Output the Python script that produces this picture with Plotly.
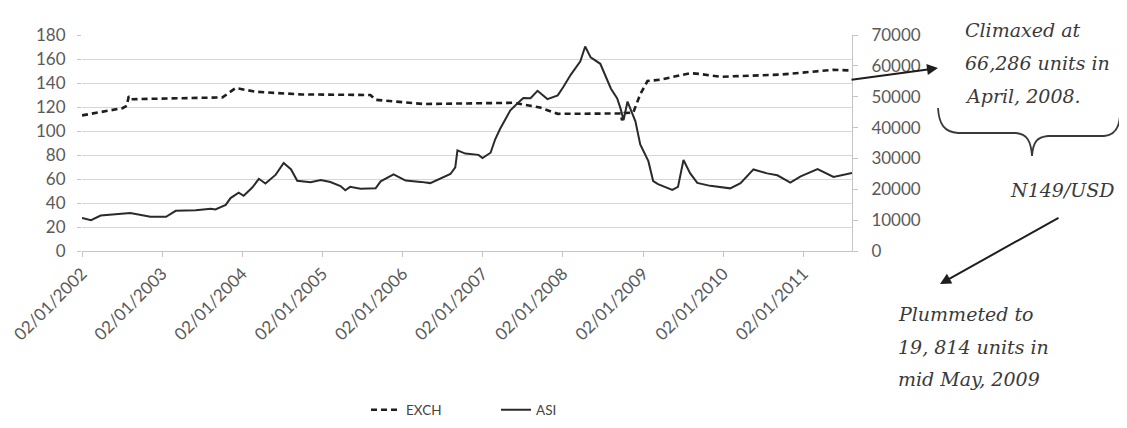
import plotly.graph_objects as go

# ---------------- data ----------------
exch_dates = ["2002-01-02", "2002-07-05", "2002-07-25", "2002-08-03", "2002-08-15",
              "2003-10-04", "2003-10-27", "2003-12-03", "2004-03-04", "2004-09-24",
              "2005-08-08", "2005-09-01", "2006-04-06", "2007-05-22", "2007-09-20",
              "2007-12-10", "2008-09-21", "2008-09-28", "2008-10-10", "2008-11-18",
              "2008-12-20", "2009-01-22", "2009-03-22", "2009-08-04", "2009-09-20",
              "2009-12-20", "2010-09-20", "2011-05-20", "2011-08-12"]
exch_values = [113, 119, 121, 129, 126.5,
               128, 131, 135.8, 132.7, 130.5,
               130, 126, 122.5, 123.5, 119.6,
               114.3, 114.6, 109, 115, 115.3,
               130.6, 141.6, 142.8, 148.2, 147.5,
               145.2, 147, 151, 150.4]

asi_dates = ["2002-01-02", "2002-02-12", "2002-03-28", "2002-08-10", "2002-11-10",
             "2003-01-20", "2003-03-05", "2003-06-04", "2003-08-12", "2003-09-02",
             "2003-10-19", "2003-11-10", "2003-12-17", "2004-01-09", "2004-02-18",
             "2004-03-18", "2004-04-17", "2004-06-03", "2004-07-09", "2004-08-11",
             "2004-09-09", "2004-11-09", "2004-12-25", "2005-02-07", "2005-03-25",
             "2005-04-16", "2005-05-08", "2005-06-24", "2005-09-01", "2005-09-24",
             "2005-11-22", "2006-01-16", "2006-03-26", "2006-05-08", "2006-08-08",
             "2006-08-30", "2006-09-09", "2006-10-15", "2006-12-14", "2007-01-01",
             "2007-02-07", "2007-02-28", "2007-03-22", "2007-05-08", "2007-06-10",
             "2007-07-06", "2007-08-08", "2007-09-09", "2007-10-24", "2007-12-10",
             "2008-01-05", "2008-02-07", "2008-03-22", "2008-04-13", "2008-05-08",
             "2008-05-30", "2008-06-21", "2008-08-08", "2008-09-06", "2008-09-21",
             "2008-10-05", "2008-10-23", "2008-11-28", "2008-12-20", "2009-01-26",
             "2009-02-17", "2009-03-11", "2009-05-15", "2009-06-10", "2009-07-05",
             "2009-08-04", "2009-09-06", "2009-11-04", "2010-02-03", "2010-03-22",
             "2010-05-20", "2010-07-21", "2010-09-06", "2010-11-04", "2010-12-21",
             "2011-03-08", "2011-05-20", "2011-08-12"]
asi_values = [10740, 10000, 11500, 12340, 11130,
              11070, 13030, 13220, 13720, 13450,
              14950, 17160, 18900, 17900, 20650,
              23400, 21890, 24740, 28550, 26500,
              22760, 22300, 23000, 22350, 21050,
              19670, 20800, 20160, 20340, 22560,
              24830, 22830, 22400, 22000, 24950,
              27100, 32600, 31560, 31160, 30140,
              31850, 36200, 39550, 45600, 47900,
              49580, 49500, 51900, 49230, 50440,
              53230, 57100, 61500, 66286, 62730,
              61720, 60670, 52660, 49430, 46220,
              42430, 48440, 42020, 34500, 29120,
              22670, 21670, 19814, 20780, 29510,
              25240, 22050, 21110, 20300, 21950,
              26430, 25150, 24540, 22150, 24200,
              26550, 24000, 25280]

tick_dates = ["2002-01-02", "2003-01-02", "2004-01-02", "2005-01-02", "2006-01-02",
              "2007-01-02", "2008-01-02", "2009-01-02", "2010-01-02", "2011-01-02"]
tick_labels = ["02/01/2002", "02/01/2003", "02/01/2004", "02/01/2005", "02/01/2006",
               "02/01/2007", "02/01/2008", "02/01/2009", "02/01/2010", "02/01/2011"]
x_range = ["2002-01-02", "2011-08-12"]

# ---------------- layout helpers ----------------
PAGE_W, PAGE_H = 1127, 428
OFF = 8  # default page margin around the figure
FIG_W, FIG_H = PAGE_W - 2 * OFF, PAGE_H - 2 * OFF
L, R, T, B = 82, 852, 35, 251  # plot area in page pixels
W, H = R - L, B - T


def px(x):
    return (x - L) / W


def py(y):
    return (B - y) / H


AX_FONT = dict(family="Lato, 'Open Sans', sans-serif", size=17, color="#5a5a5a")
NOTE_FONT = dict(family="'DejaVu Serif', serif", size=19, color="#3a3a3a")

fig = go.Figure()
fig.add_trace(go.Scatter(x=exch_dates, y=exch_values, name="EXCH", mode="lines",
                         line=dict(color="#1e1e1e", width=2.6, dash="6px,4px"),
                         yaxis="y"))
fig.add_trace(go.Scatter(x=asi_dates, y=asi_values, name="ASI", mode="lines",
                         line=dict(color="#2a2a2a", width=2),
                         yaxis="y2"))

fig.update_layout(
    width=FIG_W, height=FIG_H,
    margin=dict(l=L - OFF, r=FIG_W - (R - OFF), t=T - OFF, b=FIG_H - (B - OFF),
                autoexpand=False),
    paper_bgcolor="white", plot_bgcolor="white",
    showlegend=True,
    legend=dict(orientation="h", x=px(366), y=py(410), xanchor="left", yanchor="middle",
                font=dict(family="Lato, sans-serif", size=13.5, color="#444"),
                entrywidth=85, bgcolor="rgba(0,0,0,0)"),
    xaxis=dict(type="date", range=x_range, tickvals=tick_dates, ticktext=tick_labels,
               tickangle=-45, tickfont=AX_FONT, showgrid=False, automargin=False,
               showline=True, linecolor="#c4c4c4", linewidth=1,
               ticks="outside", ticklen=5, tickcolor="#c4c4c4"),
    yaxis=dict(range=[0, 180], dtick=20, tickfont=AX_FONT, automargin=False,
               showgrid=True, gridcolor="#d6d6d6", gridwidth=1,
               zeroline=False, showline=False,
               ticks="outside", ticklen=4, tickcolor="#c4c4c4",
               ticklabelstandoff=8),
    yaxis2=dict(range=[0, 70000], dtick=10000, tickformat="d", tickfont=AX_FONT,
                overlaying="y", side="right", showgrid=False, zeroline=False,
                automargin=False,
                showline=True, linecolor="#c4c4c4", linewidth=1,
                ticks="outside", ticklen=5, tickcolor="#c4c4c4",
                ticklabelstandoff=10),
)

# ---------------- annotations ----------------
notes = [
    ("Climaxed at", 963, 30),
    ("66,286 units in", 963, 63),
    ("April, 2008.", 963, 96),
    ("Plummeted to", 896, 314),
    ("19, 814 units in", 896, 347),
    ("mid May, 2009", 896, 379),
]
for txt, x0, y0 in notes:
    fig.add_annotation(text="<i>" + txt + "</i>", x=px(x0), y=py(y0), xref="paper", yref="paper",
                       xanchor="left", yanchor="middle", showarrow=False, font=NOTE_FONT)

fig.add_annotation(text="<i>N149/USD</i>", x=px(1062), y=py(190), xref="paper", yref="paper",
                   xanchor="center", yanchor="middle", showarrow=False, font=NOTE_FONT)

# arrows
fig.add_annotation(text="", x=px(938), y=py(68), xref="paper", yref="paper",
                   ax=850 - 938, ay=80 - 68, showarrow=True,
                   arrowhead=2, arrowsize=1.1, arrowwidth=2, arrowcolor="#1e1e1e")
fig.add_annotation(text="", x=px(940), y=py(284), xref="paper", yref="paper",
                   ax=1060 - 940, ay=217 - 284, showarrow=True,
                   arrowhead=2, arrowsize=1.1, arrowwidth=2, arrowcolor="#1e1e1e")


# curly brace
def P(x, y):
    return f"{px(x):.5f},{py(y):.5f}"


brace = (f"M {P(938,108)} C {P(939,124)} {P(944,132)} {P(958,133)} "
         f"L {P(1016,133)} C {P(1027,134)} {P(1031,141)} {P(1032,156)} "
         f"C {P(1033,142)} {P(1037,137)} {P(1048,136)} "
         f"L {P(1104,136)} C {P(1115,135)} {P(1120,127)} {P(1120,113)}")
fig.add_shape(type="path", path=brace, xref="paper", yref="paper",
              line=dict(color="#3a3a3a", width=1.8))

fig.write_html("out.html")
